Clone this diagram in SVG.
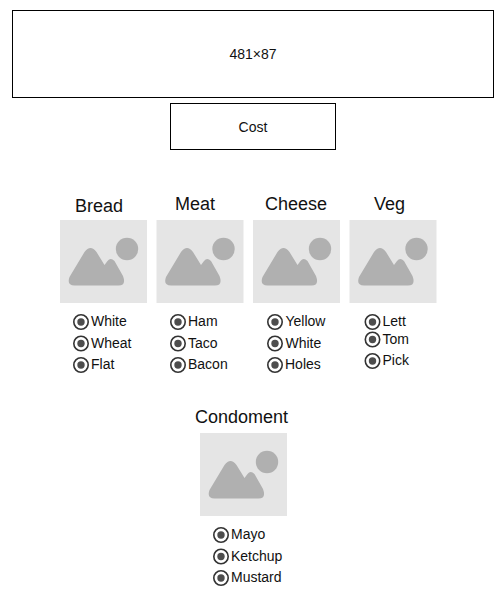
<svg xmlns="http://www.w3.org/2000/svg" width="504" height="614" viewBox="0 0 504 614">
<style>
text{font-family:"Liberation Sans",Arial,sans-serif;fill:#111}
.box{fill:#fff;stroke:#000;stroke-width:1}
.c{font-size:14px;text-anchor:middle}
.h{font-size:18px;text-anchor:middle}
.l{font-size:14px}
.ring{fill:#fff;stroke:#333;stroke-width:1.6}
.dot{fill:#4d4d4d}
.bg{fill:#e5e5e5}
.ph{fill:#b0b0b0}
</style>
<defs>
<g id="img">
<rect class="bg" width="87" height="83"/>
<circle class="ph" cx="67" cy="29" r="11.2"/>
<path class="ph" d="M9.500 57 L24.500 32 Q30.500 24 36.500 32 L44.500 45 L47.500 41 Q50.500 37 54.500 41 L63 56 Q66.500 65.500 58.500 65.500 L14.500 65.500 Q6.500 65.500 9.500 57 Z"/>
</g>
<g id="radio">
<circle class="ring" r="7.2"/>
<circle class="dot" r="3.7"/>
</g>
</defs>
<g id="banner"><rect class="box" x="12.500" y="10.500" width="481" height="87"/><text class="c" x="253" y="59">481×87</text></g>
<g id="cost"><rect class="box" x="170.500" y="103.500" width="165" height="46"/><text class="c" x="253" y="132">Cost</text></g>
<g id="bread">
<text class="h" x="99" y="212">Bread</text>
<use href="#img" x="60" y="220"/>
<use href="#radio" x="81" y="322"/><text class="l" x="91" y="326">White</text>
<use href="#radio" x="81" y="343.500"/><text class="l" x="91" y="348">Wheat</text>
<use href="#radio" x="81" y="365"/><text class="l" x="91" y="369">Flat</text>
</g>
<g id="meat">
<text class="h" x="195" y="210">Meat</text>
<use href="#img" x="156.500" y="220"/>
<use href="#radio" x="178" y="322"/><text class="l" x="188" y="326">Ham</text>
<use href="#radio" x="178" y="343.500"/><text class="l" x="188" y="348">Taco</text>
<use href="#radio" x="178" y="365"/><text class="l" x="188" y="369">Bacon</text>
</g>
<g id="cheese">
<text class="h" x="296" y="210">Cheese</text>
<use href="#img" x="253" y="220"/>
<use href="#radio" x="275" y="322"/><text class="l" x="285.500" y="326">Yellow</text>
<use href="#radio" x="275" y="343.500"/><text class="l" x="285.500" y="348">White</text>
<use href="#radio" x="275" y="365"/><text class="l" x="285" y="369">Holes</text>
</g>
<g id="veg">
<text class="h" x="389.500" y="210">Veg</text>
<use href="#img" x="349.500" y="220"/>
<use href="#radio" x="372.500" y="322"/><text class="l" x="382.500" y="326">Lett</text>
<use href="#radio" x="372.500" y="339.500"/><text class="l" x="382.500" y="344">Tom</text>
<use href="#radio" x="372.500" y="361"/><text class="l" x="382.500" y="365">Pick</text>
</g>
<g id="condoment">
<text class="h" x="241.500" y="423">Condoment</text>
<use href="#img" x="200" y="433"/>
<use href="#radio" x="221" y="535"/><text class="l" x="231" y="539">Mayo</text>
<use href="#radio" x="221" y="556.500"/><text class="l" x="231" y="561">Ketchup</text>
<use href="#radio" x="221" y="578"/><text class="l" x="231" y="582">Mustard</text>
</g>
<g id="connectors"></g>
</svg>
